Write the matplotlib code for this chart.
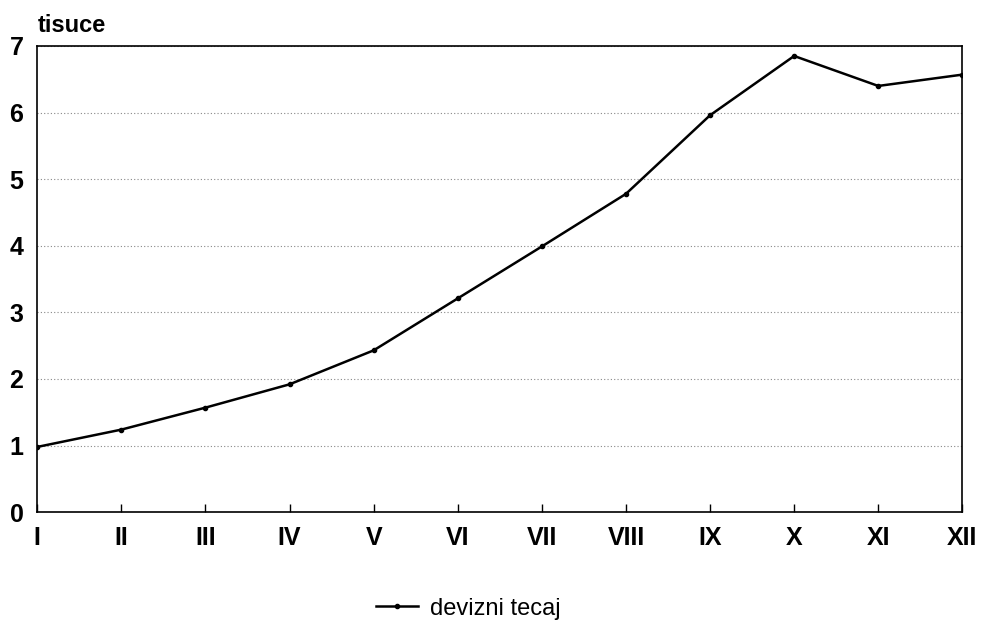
import numpy as np
import matplotlib
matplotlib.use("Agg")
import matplotlib.pyplot as plt

# months and values (tisuce)
months = ["I", "II", "III", "IV", "V", "VI", "VII", "VIII", "IX", "X", "XI", "XII"]
devizni_tecaj = [0.98, 1.24, 1.57, 1.92, 2.43, 3.21, 3.99, 4.78, 5.96, 6.85, 6.40, 6.57]
yticks = [0, 1, 2, 3, 4, 5, 6, 7]

plt.rcParams['font.family'] = ['Liberation Sans', 'DejaVu Sans']

fig = plt.figure(figsize=(9.81, 6.3), dpi=100)
ax = fig.add_axes([0.038, 0.187, 0.943, 0.740])

x = np.arange(len(months))
ax.plot(x, devizni_tecaj, color="black", lw=1.8, marker="o", ms=3,
        label="devizni tecaj")

ax.set_xlim(0, len(months) - 1)
ax.set_ylim(0, 7)
ax.set_yticks(yticks)
ax.set_yticklabels([str(v) for v in yticks], fontsize=18, fontweight="bold")
ax.set_xticks(x)
ax.set_xticklabels(months, fontsize=18, fontweight="bold")

ax.grid(axis="y", color="#888888", linestyle=(0, (1, 2)), lw=0.8)
ax.tick_params(axis="x", direction="in", length=6, width=1, pad=10)
ax.tick_params(axis="y", length=0, pad=10)
for s in ax.spines.values():
    s.set_linewidth(1.2)

ax.text(0.0, 1.02, "tisuce", transform=ax.transAxes, fontsize=17,
        fontweight="bold", ha="left", va="bottom")

ax.legend(loc="center", bbox_to_anchor=(0.466, -0.207), frameon=False,
          fontsize=17, handlelength=1.8, handletextpad=0.5, markerscale=1)

fig.savefig("out.png", dpi=100)
